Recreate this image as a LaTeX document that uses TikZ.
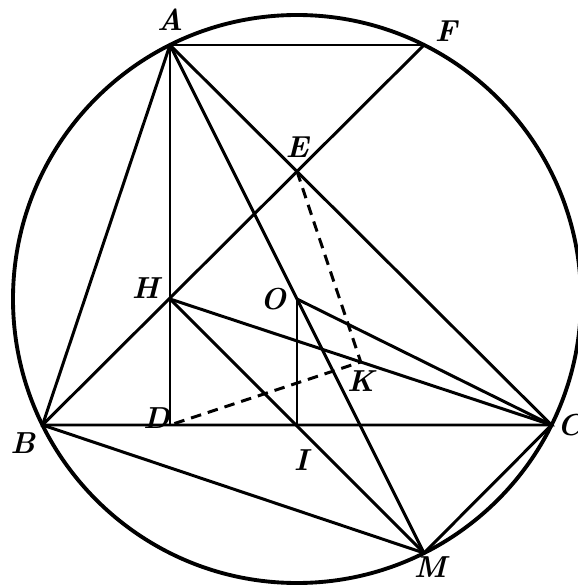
\documentclass[tikz,border=0pt]{standalone}
\usetikzlibrary{calc, positioning}
\begin{document}
\begin{tikzpicture}[
      scale=2.0,
      circle_style/.style={draw, black, line width=2.2pt},
      segment_style/.style={draw, black, line width=1.7pt},
      dash_style/.style={draw, black, line width=1.7pt, dash pattern=on 6pt off 4pt},
      label_style/.style={font=\LARGE\bfseries\itshape, inner sep=2pt}
  ]
      \useasboundingbox (-2.97,-2.87) rectangle (2.80,2.99);

      \coordinate (O) at (0,0);
      \coordinate (A) at (-1.27,2.54);
      \coordinate (F) at (1.27,2.54);
      \coordinate (B) at (-2.545,-1.26);
      \coordinate (C) at (2.545,-1.26);
      \coordinate (M) at (1.27,-2.54);
      \coordinate (H) at (-1.27,0);
      \coordinate (D) at (-1.27,-1.26);
      \coordinate (I) at (0,-1.26);
      \coordinate (E) at (0,1.275);
      \coordinate (K) at ($(H)!0.5!(C)$);

      \draw[circle_style] (O) circle (2.84);
      \draw[segment_style] (A) -- (F);
      \draw[segment_style] (A) -- (B) -- (C) -- (A);
      \draw[segment_style] (A) -- (D);
      \draw[segment_style] (A) -- (M);
      \draw[segment_style] (B) -- (F);
      \draw[segment_style] (B) -- (M) -- (C);
      \draw[segment_style] (H) -- (C);
      \draw[segment_style] (H) -- (M);
      \draw[segment_style] (O) -- (I);
      \draw[segment_style] (O) -- (C);
      \draw[dash_style] (E) -- (K) -- (D);

      \node[label_style, above=6pt] (lA) at (A) {A};
      \node[label_style, above right=0pt and 4pt] (lF) at (F) {F};
      \node[label_style, above=6pt] (lE) at (E) {E};
      \node[label_style, above left=-2pt and 4pt] (lH) at (H) {H};
      \node[label_style, left=4pt] (lO) at (O) {O};
      \node[label_style, below=3pt] (lK) at (K) {K};
      \node[label_style, above left=-4pt and -2pt] (lD) at (D) {D};
      \node[label_style, below left=2pt and 2pt] (lB) at (B) {B};
      \node[label_style, below right=12pt and -4pt] (lI) at (I) {I};
      \node[label_style, right=1pt] (lC) at (C) {C};
      \node[label_style, below right=0pt and -8pt] (lM) at (M) {M};
  \end{tikzpicture}
\end{document}
